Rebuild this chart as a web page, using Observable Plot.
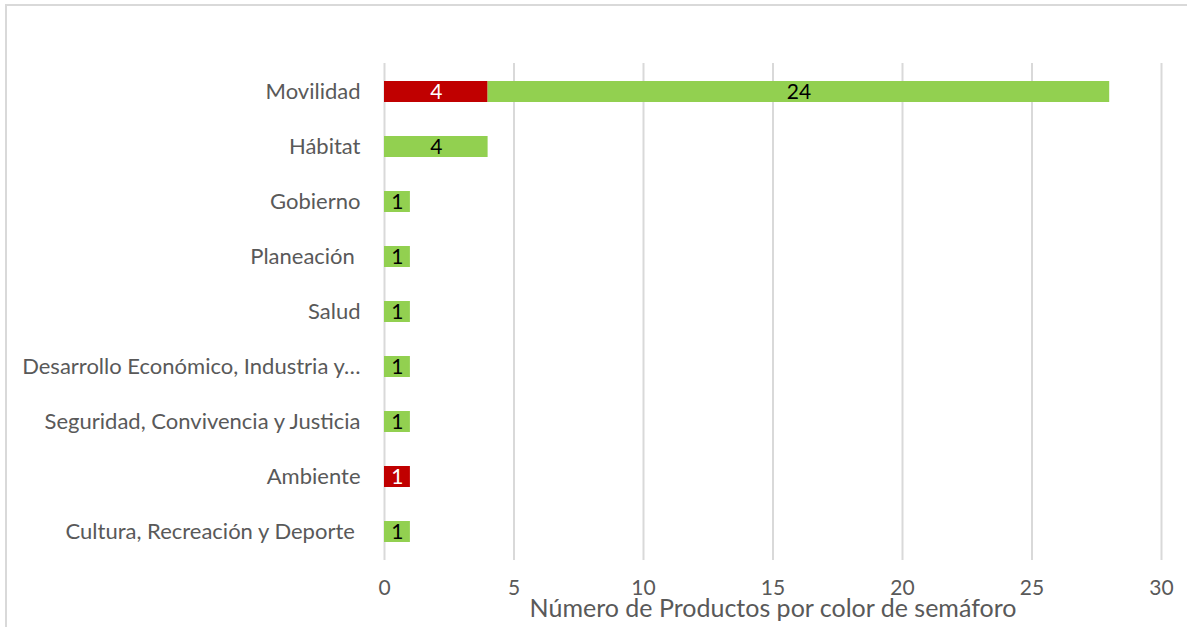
<!DOCTYPE html>
<html>
<head>
<meta charset="utf-8">
<script src="https://cdn.jsdelivr.net/npm/d3@7"></script>
<script src="https://cdn.jsdelivr.net/npm/@observablehq/plot@0.6"></script>
<style>
  html, body { margin: 0; padding: 0; background: #fff; overflow: hidden; width: 1187px; height: 627px; }
  #frame { position: absolute; left: 5px; top: 4px; width: 1190px; height: 640px; border: 2px solid #d9d9d9; box-sizing: border-box; pointer-events: none; }
  #chart { position: absolute; left: 0; top: 0; }
  #chart svg text { white-space: pre; }
</style>
</head>
<body>
<div id="chart"></div>
<div id="frame"></div>
<script>
const categories = [
  "Movilidad",
  "Hábitat",
  "Gobierno",
  "Planeación ",
  "Salud",
  "Desarrollo Económico, Industria y…",
  "Seguridad, Convivencia y Justicia",
  "Ambiente",
  "Cultura, Recreación y Deporte "
];
const rojo = [4, 0, 0, 0, 0, 0, 0, 1, 0];
const verde = [24, 4, 1, 1, 1, 1, 1, 0, 1];
const series = ["Rojo", "Verde"];
const colors = ["#C00000", "#92D050"];
const xTicks = [0, 5, 10, 15, 20, 25, 30];

const data = [];
categories.forEach((c, i) => {
  if (rojo[i] > 0) data.push({cat: c, serie: "Rojo", value: rojo[i]});
  if (verde[i] > 0) data.push({cat: c, serie: "Verde", value: verde[i]});
});

const font = "Lato, 'Open Sans', sans-serif";

const plot = Plot.plot({
  width: 1187,
  height: 627,
  marginLeft: 384,
  marginRight: 26,
  marginTop: 63,
  marginBottom: 67,
  style: { fontFamily: font, fontSize: "22px", color: "#595959", background: "transparent" },
  x: { domain: [0, 30], ticks: xTicks, label: null },
  y: { domain: categories, paddingInner: 0.62, paddingOuter: 0.31, label: null },
  color: { domain: series, range: colors },
  marks: [
    Plot.gridX(xTicks, { stroke: "#d9d9d9", strokeWidth: 2, strokeOpacity: 1 }),
    Plot.barX(data, Plot.stackX({ x: "value", y: "cat", fill: "serie", order: series })),
    Plot.text(data, Plot.stackX({
      x: "value", y: "cat", order: series,
      text: d => String(d.value),
      fill: d => d.serie === "Rojo" ? "white" : "black",
      fontSize: 21, fontFamily: font
    })),
    Plot.axisY({ tickSize: 0, tickPadding: 24, fontSize: 22, fill: "#595959", label: null }),
    Plot.axisX({ ticks: xTicks, tickSize: 0, tickPadding: 20, fontSize: 21, fill: "#595959", label: null }),
    Plot.text(["Número de Productos por color de semáforo"], {
      frameAnchor: "bottom", dy: 56, text: d => d, fontSize: 25, fill: "#595959", fontFamily: font
    })
  ]
});
document.getElementById("chart").appendChild(plot);
</script>
</body>
</html>
